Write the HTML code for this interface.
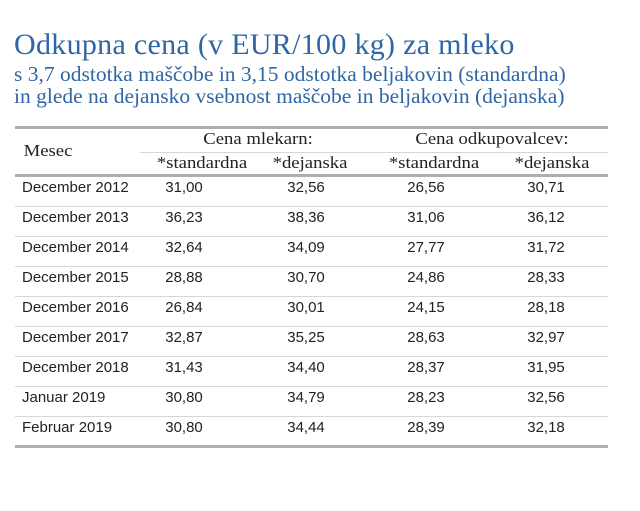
<!DOCTYPE html>
<html><head><meta charset="utf-8"><style>
body{margin:0;width:640px;height:511px;background:#fff;position:relative;overflow:hidden}
.t{position:absolute;white-space:nowrap}
.serif{font-family:"Liberation Serif",serif;color:#2f66a6}
.h{font-family:"Liberation Serif",serif;font-size:17px;color:#222;transform:translateX(-50%) scaleX(1.1)}
.v{font-family:"Liberation Sans",sans-serif;font-size:15px;color:#222;transform:translateX(-50%)}
.m{font-family:"Liberation Sans",sans-serif;font-size:15px;color:#222}
.line{position:absolute;left:15px;width:593px;height:1px;background:#d4d8d8}
.thick{height:3px;background:#a9b1b3}
</style></head><body>
<div class="t serif" style="left:14px;top:28px;font-size:30px;letter-spacing:0.3px">Odkupna cena (v EUR/100 kg) za mleko</div>
<div class="t serif" style="left:14px;top:62px;font-size:21.5px">s 3,7 odstotka maščobe in 3,15 odstotka beljakovin (standardna)</div>
<div class="t serif" style="left:14px;top:84px;font-size:21.5px">in glede na dejansko vsebnost maščobe in beljakovin (dejanska)</div>
<div class="line thick" style="top:126px"></div>
<div class="line" style="top:152px;left:140px;width:468px"></div>
<div class="line thick" style="top:174px"></div>
<div class="t h" style="left:48px;top:141px">Mesec</div>
<div class="t h" style="left:258px;top:129px">Cena mlekarn:</div>
<div class="t h" style="left:492px;top:129px">Cena odkupovalcev:</div>
<div class="t h" style="left:202px;top:153px">*standardna</div>
<div class="t h" style="left:310px;top:153px">*dejanska</div>
<div class="t h" style="left:434px;top:153px">*standardna</div>
<div class="t h" style="left:552px;top:153px">*dejanska</div>
<div id="rows"></div>
<script>
const months=["December 2012","December 2013","December 2014","December 2015","December 2016","December 2017","December 2018","Januar 2019","Februar 2019"];
const dairyStd=["31,00","36,23","32,64","28,88","26,84","32,87","31,43","30,80","30,80"];
const dairyAct=["32,56","38,36","34,09","30,70","30,01","35,25","34,40","34,79","34,44"];
const buyerStd=["26,56","31,06","27,77","24,86","24,15","28,63","28,37","28,23","28,39"];
const buyerAct=["30,71","36,12","31,72","28,33","28,18","32,97","31,95","32,56","32,18"];
const cols=[[dairyStd,164,'dairy-standard'],[dairyAct,306,'dairy-actual'],[buyerStd,426,'buyer-standard'],[buyerAct,546,'buyer-actual']];
cols[0][1]=184;
const root=document.getElementById('rows');
months.forEach((m,i)=>{
  const top=177+i*30;
  const r=document.createElement('div');r.className='t m';r.style.left='22px';r.style.top=(top+2)+'px';r.textContent=m;
  
  
  root.appendChild(r);
  cols.forEach(c=>{
    const d=document.createElement('div');d.className='t v';d.style.left=c[1]+'px';d.style.top=(top+2)+'px';d.textContent=c[0][i];
    
    
    root.appendChild(d);
  });
  const l=document.createElement('div');
  const last=i==months.length-1;
  l.className= last?'line thick':'line';
  l.style.top=(last?445:top+29)+'px';
  
  
  root.appendChild(l);
});
</script>
</body></html>
